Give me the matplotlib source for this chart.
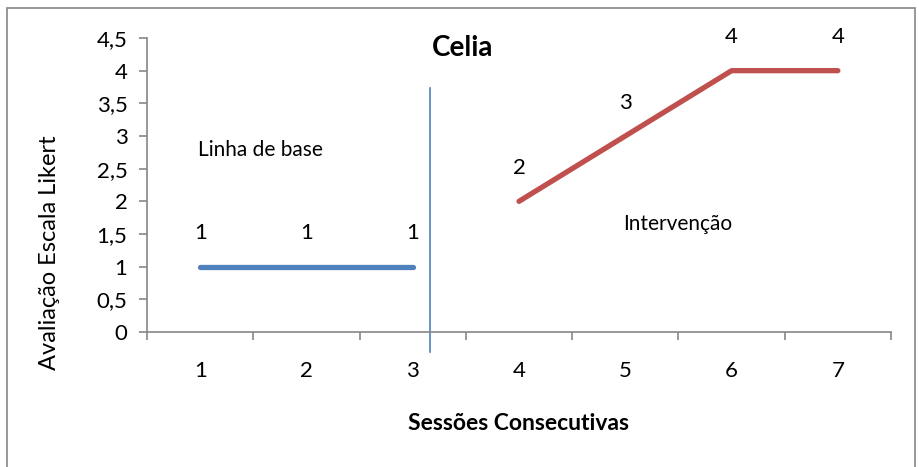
import matplotlib
matplotlib.use("Agg")
import matplotlib.pyplot as plt
from matplotlib.patches import Rectangle

# data
sessions = ["1", "2", "3", "4", "5", "6", "7"]
baseline_x = [1, 2, 3]
baseline_y = [1, 1, 1]
interv_x = [4, 5, 6, 7]
interv_y = [2, 3, 4, 4]
y_ticks = [0, 0.5, 1, 1.5, 2, 2.5, 3, 3.5, 4, 4.5]
y_labels = ["0", "0,5", "1", "1,5", "2", "2,5", "3", "3,5", "4", "4,5"]
phase_split = 3.16

plt.rcParams["font.family"] = ["Lato", "DejaVu Sans"]
FS = 16
GRAY = "#868686"
BLUE = "#4F81BD"
RED = "#C0504D"

W, H = 919, 467
fig = plt.figure(figsize=(W / 100, H / 100), dpi=100)

# outer chart border
fig.patches.append(Rectangle((7 / W, -0.05), 908 / W, (H - 8) / H + 0.05,
                             transform=fig.transFigure, fill=False,
                             edgecolor=GRAY, linewidth=1.2))

ax = fig.add_axes([147 / W, (H - 332) / H, 744 / W, 294 / H])
ax.set_xlim(0.5, 7.5)
ax.set_ylim(0, 4.5)

ax.plot(baseline_x, baseline_y, color=BLUE, lw=3.8, solid_capstyle="round", clip_on=False)
ax.plot(interv_x, interv_y, color=RED, lw=3.8, solid_capstyle="round", clip_on=False)

for x, y in zip(baseline_x + interv_x, baseline_y + interv_y):
    ax.annotate(str(y), (x, y), xytext=(0, 24), textcoords="offset points",
                ha="center", va="center", fontsize=FS, annotation_clip=False)

# phase change line
ax.plot([phase_split, phase_split], [3.74, -0.31], color=BLUE, lw=1.2, clip_on=False)

ax.text(0.98, 2.79, "Linha de base", fontsize=15, ha="left", va="center")
ax.text(4.98, 1.65, "Intervenção", fontsize=15, ha="left", va="center")
fig.text(463 / W, (H - 48) / H, "Celia", fontsize=20, fontweight="bold", ha="center", va="center")

for s in ["top", "right"]:
    ax.spines[s].set_visible(False)
for s in ["left", "bottom"]:
    ax.spines[s].set_color(GRAY)
    ax.spines[s].set_linewidth(1.2)

ax.set_yticks(y_ticks)
ax.set_yticklabels(y_labels, fontsize=FS)
ax.tick_params(axis="y", length=6, width=1.2, color=GRAY, pad=8)

ax.set_xticks([i + 0.5 for i in range(0, 8)])
ax.set_xticklabels([])
ax.tick_params(axis="x", which="major", length=6, width=1.2, color=GRAY)
ax.set_xticks(range(1, 8), minor=True)
ax.set_xticklabels(sessions, minor=True, fontsize=FS)
ax.tick_params(axis="x", which="minor", length=0, pad=21)

fig.text(50 / W, (H - 253) / H, "Avaliação Escala Likert", rotation=90, fontsize=17,
         ha="center", va="center")
fig.text(518 / W, (H - 424) / H, "Sessões Consecutivas", fontsize=16.5, fontweight="bold",
         ha="center", va="center")

fig.savefig("out.png", dpi=100)
